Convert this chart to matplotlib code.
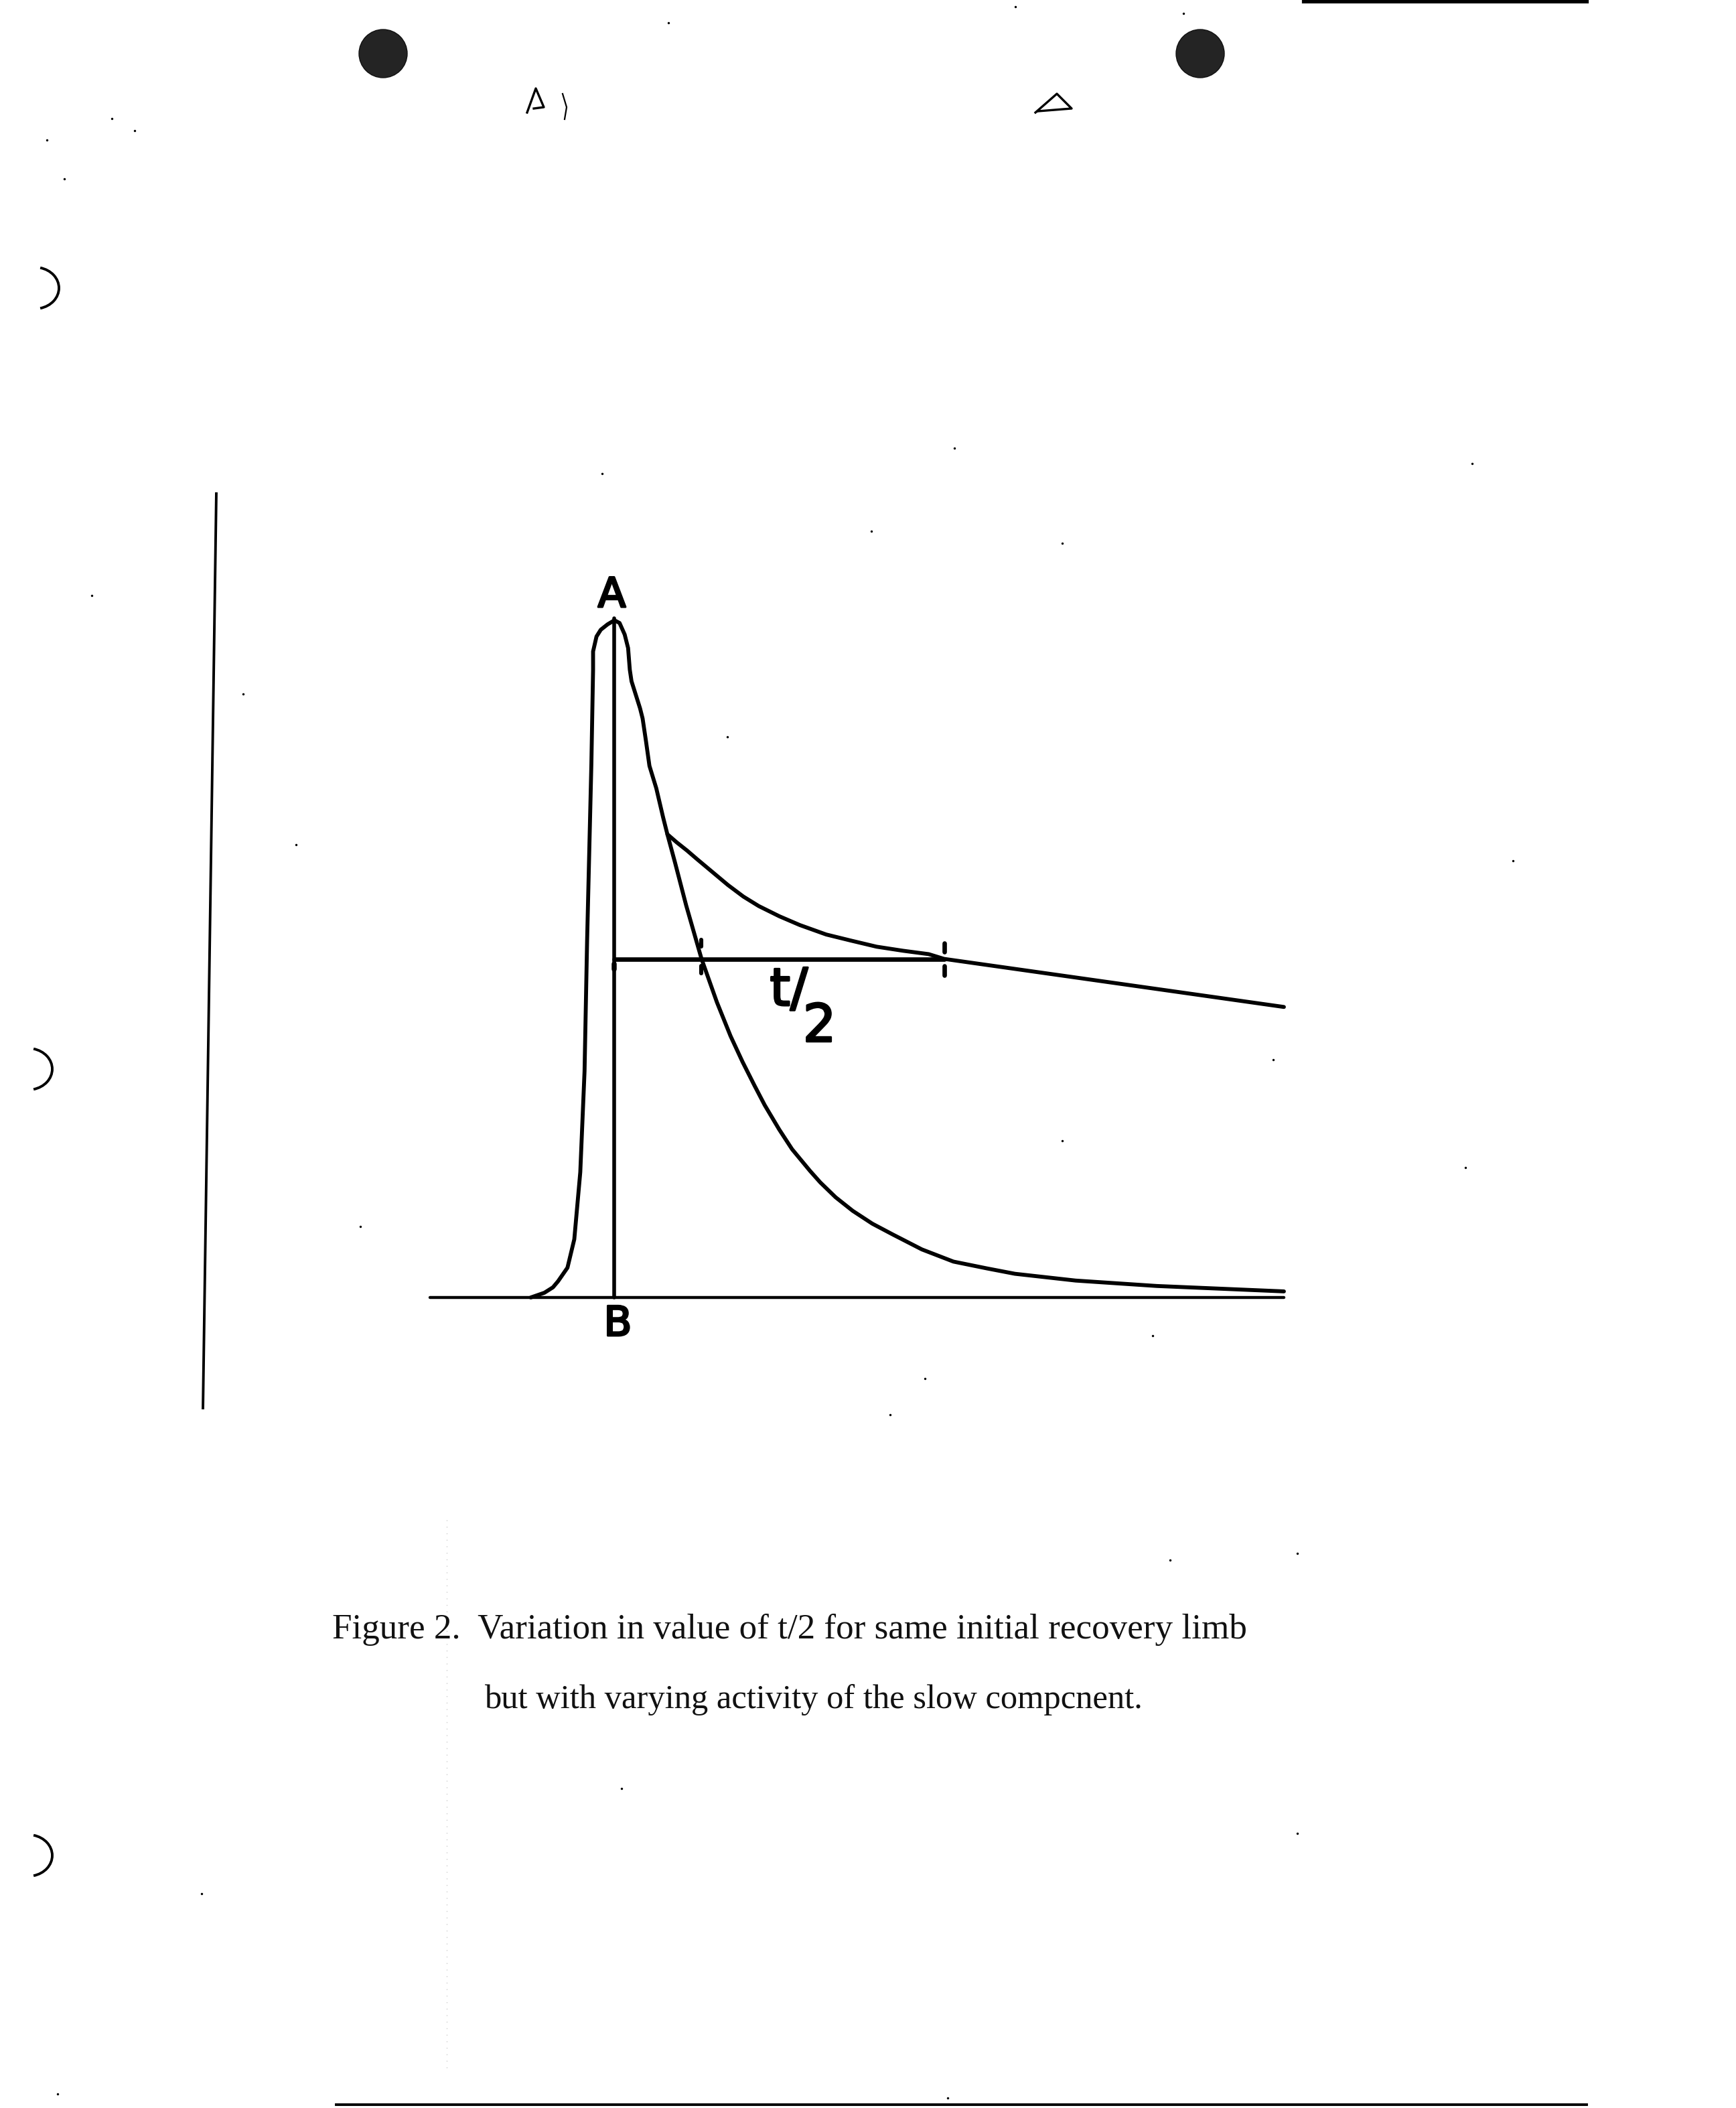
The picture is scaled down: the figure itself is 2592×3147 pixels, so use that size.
import matplotlib
matplotlib.use("Agg")
import matplotlib.pyplot as plt
import matplotlib.patheffects as pe
from matplotlib.patches import Circle, Arc

# ---------------- chart data (time: arbitrary units, activity: % of peak A) ----------------
rise_t = [11.8, 13.4, 14.4, 15.0, 16.1, 16.9, 17.6, 18.1, 18.4, 18.9, 19.1, 19.1, 19.5, 20.0, 20.8, 21.6]
rise_a = [0.0, 0.7, 1.5, 2.4, 4.4, 8.6, 18.5, 33.4, 52.7, 78.8, 92.7, 95.4, 97.6, 98.6, 99.4, 100.0]

fast_t = [21.6, 22.2, 22.8, 23.2, 23.4, 23.6, 24.6, 24.9, 25.3, 25.7, 26.5, 27.3, 27.8, 28.7,
          30.0, 31.8, 33.6, 35.2, 36.6, 38.0, 39.2, 40.9, 42.4, 44.5, 45.7, 47.5, 49.5, 51.8,
          54.2, 57.6, 61.3, 65.2, 68.5, 75.6, 85.1, 100.0]
fast_a = [100.0, 99.6, 97.9, 95.9, 92.7, 91.0, 87.0, 85.5, 82.1, 78.5, 75.2, 70.9, 68.4, 64.2,
          57.9, 50.0, 43.6, 38.6, 34.8, 31.3, 28.4, 24.8, 21.9, 18.7, 17.0, 14.8, 12.8, 10.9,
          9.3, 7.1, 5.3, 4.3, 3.5, 2.5, 1.7, 0.9]

slow_t = [27.8, 28.9, 30.1, 31.3, 33.1, 34.9, 36.7, 38.5, 40.9, 43.3, 46.4, 49.3, 52.3, 55.4,
          58.4, 60.2, 100.0]
slow_a = [68.4, 67.2, 66.0, 64.7, 62.8, 60.9, 59.2, 57.8, 56.3, 55.0, 53.6, 52.7, 51.8, 51.2,
          50.7, 50.0, 42.9]

baseline_t = [0.0, 100.0]
peak_t = 21.6
peak_a = 100.0
half_a = 50.0
half_t_fast = 31.8
half_t_slow = 60.2

label_A = "A"
label_B = "B"
label_half = "t/\n  2"
caption_1 = "Figure 2.  Variation in value of t/2 for same initial recovery limb"
caption_2 = "but with varying activity of the slow compcnent."

# ---------------- page artefacts of the scan (pixel coordinates of the page) ----------------
hole_x = [572, 1792]
hole_y = [80, 80]
paren_x = [52, 42, 42]
paren_y = [430, 1596, 2770]
speck_x = [998, 1516, 1767, 167, 201, 70, 96, 137, 363, 899, 1425, 1586, 1301, 2198, 1086, 442,
           2259, 1901, 1586, 2188, 538, 1381, 1329, 1721, 1747, 1937, 301, 928, 1937, 86, 1415]
speck_y = [34, 10, 20, 177, 195, 209, 267, 889, 1036, 707, 669, 811, 793, 692, 1100, 1261,
           1285, 1582, 1703, 1743, 1831, 2058, 2112, 1994, 2329, 2319, 2827, 2670, 2737, 3126, 3132]

W, H = 2592, 3147
DPI = 100
fig = plt.figure(figsize=(W / DPI, H / DPI), dpi=DPI)
fig.patch.set_facecolor("white")

# page overlay (1 unit = 1 pixel)
page = fig.add_axes([0, 0, 1, 1])
page.set_xlim(0, W)
page.set_ylim(H, 0)
page.axis("off")

for hx, hy in zip(hole_x, hole_y):
    page.add_patch(Circle((hx, hy), 36, facecolor="#242424", edgecolor="#111111", lw=1))
for px, py in zip(paren_x, paren_y):
    page.add_patch(Arc((px, py), 72, 62, theta1=-75, theta2=75, color="black", lw=2.8))
page.scatter(speck_x, speck_y, s=6, color="black", lw=0)

# left margin rule, top-right rule, bottom rule
page.plot([323, 303], [735, 2104], color="black", lw=2.8, solid_capstyle="butt")
page.plot([1947, 2369], [2, 2], color="black", lw=4.5)
page.plot([502, 2369], [3142, 3142], color="black", lw=2.8)
# faint scan dotted line
page.plot([667, 667], [2269, 3092], color="#cfcfcf", lw=1.0, ls=(0, (1, 6)))
# small hand marks near the punch holes
page.plot([787, 800, 812, 797], [168, 132, 160, 162], color="black", lw=2.4)
page.plot([840, 846, 843], [140, 160, 178], color="black", lw=1.6)
page.plot([1546, 1578, 1600, 1550], [168, 140, 162, 166], color="black", lw=2.4)

# ---------------- chart axes ----------------
left, right, base_y, top_y = 642, 1917, 1937, 926
ax = fig.add_axes([left / W, (H - base_y) / H, (right - left) / W, (base_y - top_y) / H])
ax.set_xlim(0, 100)
ax.set_ylim(0, 100)
ax.axis("off")
ax.patch.set_alpha(0)

lw_curve = 4.2
kw = dict(color="black", solid_joinstyle="round", solid_capstyle="round", clip_on=False)
ax.plot(baseline_t, [0, 0], lw=3.2, **kw)
ax.plot(rise_t, rise_a, lw=lw_curve, **kw)
ax.plot(fast_t, fast_a, lw=lw_curve, **kw)
ax.plot(slow_t, slow_a, lw=lw_curve, **kw)
ax.plot([peak_t, peak_t], [0, peak_a + 0.3], lw=4.0, **kw)
ax.plot([peak_t, half_t_slow], [half_a, half_a], lw=4.8, **kw)
# crossing marks
ax.plot([half_t_fast, half_t_fast], [51.8, 52.8], lw=4.4, **kw)
ax.plot([half_t_fast, half_t_fast], [47.9, 49.0], lw=4.4, **kw)
ax.plot([half_t_slow, half_t_slow], [51.0, 52.3], lw=4.8, **kw)
ax.plot([half_t_slow, half_t_slow], [47.6, 49.0], lw=4.8, **kw)
ax.plot([peak_t, peak_t], [48.5, 49.3], lw=5.4, **kw)

stroke = [pe.withStroke(linewidth=2.2, foreground="black")]
font_lab = dict(family="DejaVu Sans", color="black", clip_on=False, path_effects=stroke)
ax.text(21.3, 103.6, label_A, fontsize=44, ha="center", va="center", **font_lab)
ax.text(22.0, -4.0, label_B, fontsize=44, ha="center", va="center", **font_lab)
# t/2 written as a stacked fraction: "t/" on the first line, "2" lower right
ax.text(39.8, (base_y - 1441) / 10.11, label_half, fontsize=56, ha="left", va="top",
        multialignment="left", linespacing=0.63, **font_lab)

# ---------------- caption ----------------
def fit_text(x, y, s, target_w, **kwargs):
    t = page.text(x, y, s, **kwargs)
    fig.canvas.draw()
    w = t.get_window_extent().width
    t.set_fontsize(t.get_fontsize() * target_w / w)
    return t

cap_kw = dict(family="Liberation Serif", color="#111111", ha="left", va="baseline", fontsize=32)
fit_text(496, 2446, caption_1, 1371, **cap_kw)
fit_text(723, 2550, caption_2, 986, **cap_kw)

fig.savefig("out.png", dpi=DPI, facecolor="white")
